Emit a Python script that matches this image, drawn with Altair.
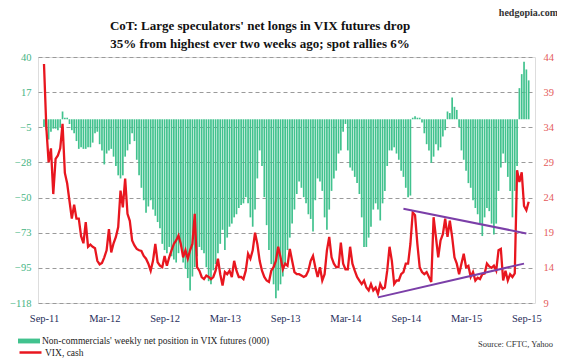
import altair as alt
import pandas as pd

# Weekly net position of non-commercials in VIX futures (000)
net_position = [
    -5, -7, -13, -8, -6, -6, -7, -5, 5, 1,
    1, -3, -7, -9, -14, -19, -18, -19, -19, -18,
    -18, -15, -9, -8, -16, -20, -29, -22, -20, -19,
    -24, -30, -36, -38, -36, -24, -20, -16, -9, -14,
    -26, -36, -44, -52, -60, -56, -52, -58, -62, -66,
    -70, -80, -84, -86, -82, -88, -90, -92, -86, -80,
    -92, -96, -102, -110, -101, -95, -88, -82, -84, -86,
    -95, -104, -106, -97, -93, -86, -80, -71, -84, -76,
    -69, -67, -63, -61, -57, -55, -54, -50, -54, -63,
    -69, -58, -38, -20, -30, -50, -68, -84, -93, -106,
    -115, -110, -106, -101, -93, -84, -76, -67, -58, -48,
    -40, -44, -50, -54, -61, -64, -72, -52, -38, -40,
    -46, -63, -71, -58, -46, -38, -33, -22, -20, -8,
    -3, -20, -31, -33, -37, -41, -48, -63, -82, -82,
    -76, -69, -58, -54, -58, -65, -54, -46, -30, -20,
    -20, -18, -22, -26, -33, -37, -44, -50, -49, 1,
    2, 1, 1, -2, -9, -16, -20, -28, -24, -16,
    -20, -18, -11, -7, 5, 4, 14, 8, 6, -5,
    -20, -26, -33, -41, -44, -52, -57, -61, -67, -75,
    -63, -57, -59, -67, -74, -67, -46, -31, -22, -28,
    -37, -46, -63, -46, -30, 20, 29, 37, 32, 25,
]

# VIX (cash), weekly
vix = [
    43, 34, 29, 31, 24.5, 29.5, 30, 31, 34.5, 27.5,
    26, 23.5, 21, 23, 21, 21, 18.5, 17.5, 20.5, 17,
    17.3, 17, 16.8, 15, 14.5, 14.7, 15.5, 16.5, 19.5, 16.2,
    17.5, 18.4, 19.8, 25, 22.6, 26.7, 21.7, 20.7, 17.9, 17.2,
    16.7, 16.5, 16.4, 15.7, 15.3, 14.6, 13.6, 15, 17.4, 14.8,
    14.3, 14.1, 15.7, 14.3, 15.5, 16.5, 17.4, 17.9, 18.6, 17.4,
    15.5, 16.5, 15.3, 16.5, 17.4, 21.7, 14.1, 13.6, 12.7, 12.4,
    12.9, 12.7, 12.4, 12.7, 13.6, 15.3, 13.1, 11.5, 13.4, 13.1,
    13.6, 12.7, 15, 13.6, 12.7, 12.7, 12.4, 13.6, 16, 15.3,
    16.5, 19, 17.4, 15, 13.6, 12.7, 12.2, 12, 13.6, 14.1,
    15, 17, 15.5, 13.8, 14.6, 14.3, 16.7, 15, 13.4, 13.1,
    13.1, 12.9, 12.7, 12.9, 13.6, 15, 15.7, 14.1, 12.7, 14.1,
    12.2, 13.1, 16.5, 18.4, 15.5, 14.6, 14.1, 14.1, 17.6, 14.6,
    13.8, 13.8, 17, 14.6, 13.6, 12.7, 12.2, 11.7, 12.2, 11.2,
    10.8, 11.7, 10.8, 11.2, 10.3, 11.7, 11, 11.2, 13.6, 17,
    15, 11.7, 12.2, 12.2, 13.1, 13.4, 14.6, 14.6, 17.4, 21.9,
    21.5, 17.4, 14.1, 13.4, 13.1, 13.4, 12.7, 12, 21.2, 18.4,
    15.5, 17.9, 18.8, 21, 18.4, 20.7, 18.4, 15.5, 14.6, 13.1,
    14.6, 16, 14.1, 14.3, 12.7, 13.4, 12.2, 12.6, 12.4, 13.1,
    13.2, 14.6, 14.2, 14, 14.3, 13.6, 16.5, 16.7, 12.2, 13.6,
    12.2, 13.1, 12.7, 13.2, 27.9, 26.2, 27.6, 22.8, 22.2, 23.4,
]

first_week = "2011-09-27"
left_ticks = [40, 17.43, -5.14, -27.71, -50.29, -72.86, -95.43, -118]
right_ticks = [9, 14, 19, 24, 29, 34, 39, 44]
x_label_weeks = [0, 26, 52, 78, 104, 130, 156, 182, 208]

# purple trend lines drawn on the VIX scale
trend_segment = ["upper", "upper", "lower", "lower"]
trend_week = [155, 208, 144, 207]
trend_vix = [22.4, 18.9, 9.8, 14.6]

title_lines = [
    "CoT: Large speculators' net longs in VIX futures drop",
    "35% from highest ever two weeks ago; spot rallies  6%",
]
net_label = "Non-commercials' weekly net position in VIX futures (000)"
vix_label = "VIX, cash"

dates = pd.date_range(first_week, periods=len(vix), freq="7D")
df = pd.DataFrame({"date": dates, "net": net_position, "vix": vix,
                   "s_net": net_label, "s_vix": vix_label})
trend_df = pd.DataFrame({"date": dates[trend_week], "vix": trend_vix, "seg": trend_segment})

x_vals = [alt.DateTime(year=int(d.year), month=int(d.month), date=int(d.day)) for d in dates[x_label_weeks]]
x_domain = [alt.DateTime(year=2011, month=9, date=24), alt.DateTime(year=2015, month=10, date=3)]
x_scale = alt.Scale(domain=x_domain)

SERIF = "Liberation Serif"
GREEN = "#41C28E"
RED = "#E8161F"

bars = alt.Chart(df).mark_bar(width=1.7).encode(
    x=alt.X("date:T", scale=x_scale,
            axis=alt.Axis(values=x_vals, format="%b-%y", title=None, ticks=False, domain=False,
                          grid=False, labelFont=SERIF, labelFontSize=10.5, labelColor="#1F2D5A",
                          labelPadding=10)),
    y=alt.Y("net:Q", scale=alt.Scale(domain=[-118, 40], nice=False, zero=False),
            axis=alt.Axis(values=left_ticks, format=".0f", title=None, ticks=False, domain=False,
                          grid=True, gridDash=[4, 3], gridColor="#9A9A9A", gridWidth=1,
                          labelFont=SERIF, labelFontSize=10.5, labelColor="#45B483",
                          labelPadding=7)),
    color=alt.Color("s_net:N", scale=alt.Scale(range=[GREEN]),
                    legend=alt.Legend(title=None, orient="none", legendX=-20, legendY=273,
                                      symbolType="M-1,-0.22H1V0.22H-1Z", symbolSize=484,
                                      symbolStrokeWidth=0, labelFont=SERIF, labelFontSize=9.5,
                                      labelColor="#222222", labelOffset=2, labelLimit=400,
                                      padding=0)),
)

vix_axis = alt.Axis(orient="right", values=right_ticks, title=None, ticks=False, domain=False,
                    grid=False, labelFont=SERIF, labelFontSize=10.5, labelColor="#E45B5B",
                    labelPadding=8)
vix_scale = alt.Scale(domain=[9, 44], nice=False, zero=False)

vix_line = alt.Chart(df).mark_line(strokeWidth=2.3).encode(
    x=alt.X("date:T", scale=x_scale),
    y=alt.Y("vix:Q", scale=vix_scale, axis=vix_axis),
    stroke=alt.Stroke("s_vix:N", scale=alt.Scale(range=[RED]),
                      legend=alt.Legend(title=None, orient="none", legendX=-20, legendY=283,
                                        symbolType="stroke", symbolSize=484, symbolStrokeWidth=2.5,
                                        labelFont=SERIF, labelFontSize=9.5, labelColor="#222222",
                                        labelOffset=2, labelLimit=400, padding=0)),
)

trend = alt.Chart(trend_df).mark_line(color="#7B3FA8", strokeWidth=2).encode(
    x=alt.X("date:T", scale=x_scale),
    y=alt.Y("vix:Q", scale=vix_scale, axis=vix_axis),
    detail="seg:N",
)

title_style = dict(font=SERIF, fontSize=13, fontWeight="bold", color="#111111",
                   align="center", baseline="middle")
title1 = alt.Chart(pd.DataFrame({"t": [title_lines[0]]})).mark_text(**title_style).encode(
    text="t:N", x=alt.value(222), y=alt.value(-31.5))
title2 = alt.Chart(pd.DataFrame({"t": [title_lines[1]]})).mark_text(**title_style).encode(
    text="t:N", x=alt.value(222), y=alt.value(-13))

site = alt.Chart(pd.DataFrame({"t": ["hedgopia.com"]})).mark_text(
    font=SERIF, fontSize=10, fontWeight="bold", color="#333333", align="right", baseline="middle"
).encode(text="t:N", x=alt.value(520), y=alt.value(-44))

source = alt.Chart(pd.DataFrame({"t": ["Source: CFTC, Yahoo"]})).mark_text(
    font=SERIF, fontSize=8.5, color="#333333", align="right", baseline="middle"
).encode(text="t:N", x=alt.value(515), y=alt.value(287))

right_layer = alt.layer(vix_line, trend)

chart = alt.layer(bars, right_layer, site, source, title1, title2).resolve_scale(y="independent").properties(
    width=497,
    height=246,
    autosize=alt.AutoSizeParams(type="none"),
    padding={"left": 30, "top": 49, "right": 22, "bottom": 56},
).configure_view(fill="#FCFBEE", stroke="transparent").configure(background="white")

chart.save("out.html", embed_options={"renderer": "svg", "actions": False})
